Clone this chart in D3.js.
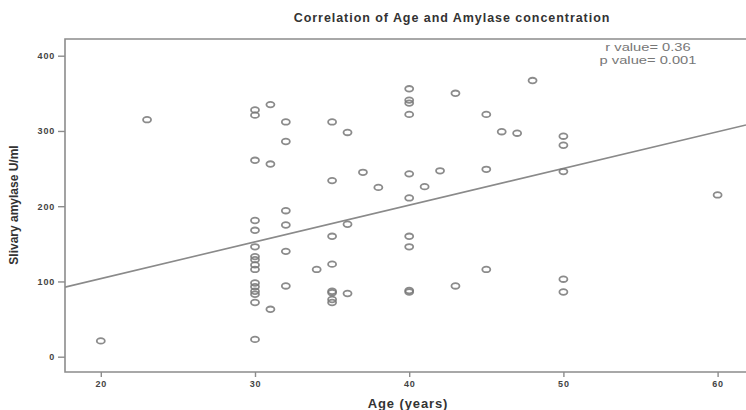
<!DOCTYPE html>
<html>
<head>
<meta charset="utf-8">
<script src="https://cdn.jsdelivr.net/npm/d3@7"></script>
<style>
  html, body { margin: 0; padding: 0; background: #fff; }
  svg { display: block; }
  text { font-family: "Liberation Sans", Arial, sans-serif; }
</style>
</head>
<body>
<svg id="chart" width="746" height="410"></svg>
<script>
// ---- data ----
const ages = [20, 23,
  30,30,30,30,30,30,30,30,30,30,30,30,30,30,30,30,
  31,31,31,
  32,32,32,32,32,32,
  34,
  35,35,35,35,35,35,35,35,
  36,36,36,
  37, 38,
  40,40,40,40,40,40,40,40,40,40,
  41, 42, 43,43,
  45,45,45, 46, 47, 48,
  50,50,50,50,50,
  60];
const amylase = [21, 315,
  328,321,261,181,168,146,133,129,122,116,98,93,87,83,72,23,
  335,256,63,
  312,286,194,175,140,94,
  116,
  312,234,160,123,87,85,76,72,
  298,176,84,
  245, 225,
  356,341,337,322,243,211,160,146,88,86,
  226, 247, 350,94,
  322,249,116, 299, 297, 367,
  293,281,246,103,86,
  215];
const xTicks = [20, 30, 40, 50, 60];
const yTicks = [0, 100, 200, 300, 400];
const fitIntercept = 6.2;   // regression line: value = a + b * age
const fitSlope = 4.88;
const statLines = ["r value= 0.36", "p value= 0.001"];
const title = "Correlation of Age and Amylase concentration";
const xTitle = "Age (years)";
const yTitle = "Slivary amylase U/ml";

// ---- layout ----
const svg = d3.select("#chart");
const frame = {left: 65, top: 39, bottom: 372, right: 760};
const x = d3.scaleLinear().domain([20, 60]).range([100.8, 717.6]);
const y = d3.scaleLinear().domain([0, 400]).range([356.7, 55.7]);
const grey = "#8c8c8c";

svg.append("rect").attr("width", 746).attr("height", 410).attr("fill", "#fff");

// frame
svg.append("path")
  .attr("d", `M${frame.right},${frame.top}H${frame.left}V${frame.bottom}H${frame.right}`)
  .attr("fill", "none").attr("stroke", grey).attr("stroke-width", 1.6);

// axes
const yAxis = d3.axisLeft(y).tickValues(yTicks).tickSize(7).tickPadding(3);
const gy = svg.append("g").attr("transform", `translate(${frame.left},0)`).call(yAxis);
gy.select(".domain").remove();
gy.selectAll("line").attr("stroke", grey).attr("stroke-width", 1.4);
gy.selectAll("text").attr("font-size", 9).attr("font-weight", "bold").attr("fill", "#444")
  .attr("letter-spacing", 0.8);

const xAxis = d3.axisBottom(x).tickValues(xTicks).tickSize(5).tickPadding(4);
const gx = svg.append("g").attr("transform", `translate(0,${frame.bottom})`).call(xAxis);
gx.select(".domain").remove();
gx.selectAll("line").attr("stroke", grey).attr("stroke-width", 1.4);
gx.selectAll("text").attr("font-size", 9).attr("font-weight", "bold").attr("fill", "#444")
  .attr("letter-spacing", 0.8);

// clip
svg.append("clipPath").attr("id", "plotclip").append("rect")
  .attr("x", frame.left).attr("y", frame.top)
  .attr("width", 746 - frame.left).attr("height", frame.bottom - frame.top);

const plot = svg.append("g").attr("clip-path", "url(#plotclip)");

// regression line
const a0 = x.invert(frame.left), a1 = x.invert(746);
plot.append("line")
  .attr("x1", x(a0)).attr("y1", y(fitIntercept + fitSlope * a0))
  .attr("x2", x(a1)).attr("y2", y(fitIntercept + fitSlope * a1))
  .attr("stroke", "#8a8a8a").attr("stroke-width", 1.6);

// points
const pts = ages.map((a, i) => ({age: a, val: amylase[i]}));
plot.selectAll("ellipse.pt").data(pts).enter().append("ellipse")
  .attr("class", "pt")
  .attr("cx", d => x(d.age)).attr("cy", d => y(d.val))
  .attr("rx", 4).attr("ry", 2.8)
  .attr("fill", "none").attr("stroke", "#777").attr("stroke-width", 1.8)
  .attr("stroke-opacity", 0.85);

// stats text
svg.selectAll("text.stat").data(statLines).enter().append("text")
  .attr("class", "stat")
  .attr("transform", (d, i) => `translate(648,${51 + i * 12.5}) scale(1.4,1)`)
  .attr("text-anchor", "middle").attr("font-size", 10.5)
  .attr("font-family", "DejaVu Sans")
  .attr("fill", "#777")
  .text(d => d);

// titles
svg.append("text").attr("x", 452).attr("y", 22).attr("text-anchor", "middle")
  .attr("font-size", 12.5).attr("font-weight", "bold").attr("fill", "#333")
  .attr("letter-spacing", 0.95)
  .text(title);
svg.append("text").attr("x", 408).attr("y", 408).attr("text-anchor", "middle")
  .attr("font-size", 13).attr("font-weight", "bold").attr("fill", "#333")
  .attr("letter-spacing", 0.9)
  .text(xTitle);
svg.append("text").attr("transform", "translate(18,205) rotate(-90)")
  .attr("text-anchor", "middle")
  .attr("font-size", 12).attr("font-weight", "bold").attr("fill", "#333")
  .text(yTitle);
</script>
</body>
</html>
